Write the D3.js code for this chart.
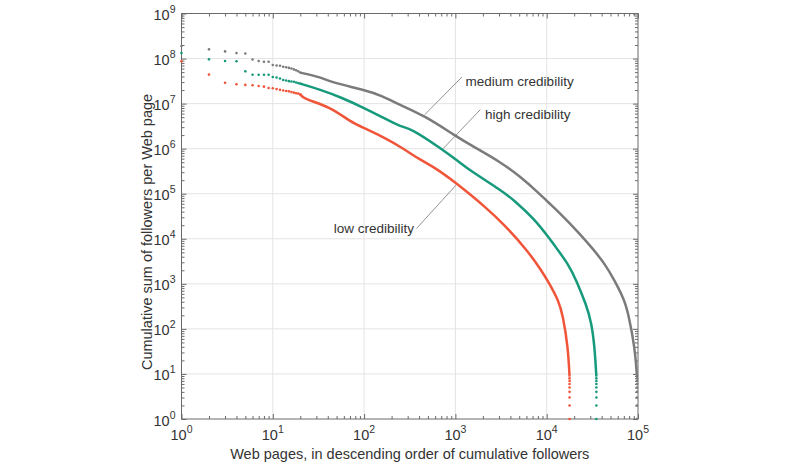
<!DOCTYPE html>
<html>
<head>
<meta charset="utf-8">
<script src="https://cdn.jsdelivr.net/npm/d3@7"></script>
<style>
  body { margin: 0; background: #fff; }
  svg { font-family: "Liberation Sans", Arial, sans-serif; }
</style>
</head>
<body>
<div class="chart"></div>
<script>
// first ranks are drawn as single dots
var headRanks = [1, 2, 3, 4, 5, 6, 7, 8, 9, 10, 11, 12, 13, 14, 15, 16, 17, 18, 19, 20];
var mediumHead = [1.9e8, 1.6e8, 1.44e8, 1.32e8, 1.29e8, 9.5e7, 8.8e7, 8.5e7, 8.5e7, 7.2e7,
  7.0e7, 6.9e7, 6.6e7, 6.4e7, 6.2e7, 6.0e7, 5.75e7, 5.5e7, 5.2e7, 4.9e7];
var highHead = [1.32e8, 9.6e7, 8.8e7, 8.7e7, 5.2e7, 4.36e7, 4.36e7, 4.36e7, 4.36e7, 3.9e7,
  3.8e7, 3.6e7, 3.35e7, 3.25e7, 3.15e7, 3.1e7, 3.05e7, 2.95e7, 2.85e7, 2.77e7];
var lowHead = [8.7e7, 4.4e7, 2.9e7, 2.7e7, 2.6e7, 2.55e7, 2.46e7, 2.38e7, 2.22e7, 2.2e7,
  2.1e7, 2.02e7, 1.95e7, 1.9e7, 1.87e7, 1.8e7, 1.75e7, 1.7e7, 1.67e7, 1.6e7];

// dense part, drawn as a line
var mediumRanks = [20, 33, 43, 104, 152, 252, 451, 1038, 1480, 3162, 5248, 8000, 10650, 13280,
  23900, 32200, 42800, 55200, 71100, 78000, 92200, 97500];
var mediumValues = [4.87e7, 3.89e7, 3.0e7, 1.97e7, 1.53e7, 9.17e6, 5.5e6, 1.84e6, 1.19e6, 4.99e5,
  2.32e5, 1.08e5, 6.15e4, 4.09e4, 1.2e4, 5880, 2880, 1208, 435, 224, 40, 8.7];
var highRanks = [20, 33, 55, 104, 152, 252, 320, 723, 1038, 1480, 3162, 4395, 7345, 10650, 13040,
  17220, 21100, 27180, 30850, 33500, 35000];
var highValues = [2.77e7, 2.04e7, 1.4e7, 7.7e6, 5.2e6, 3.03e6, 2.9e6, 9.55e5, 5.53e5, 3.15e5,
  1.2e5, 7.18e4, 2.72e4, 1.03e4, 5880, 2735, 1208, 337, 141, 40, 8.7];
var lowRanks = [20, 21.6, 43, 71, 104, 172, 252, 418, 585, 1038, 1480, 2070, 3410, 6110, 8710,
  10650, 13400, 15040, 17100, 17800];
var lowValues = [1.61e7, 1.29e7, 8.4e6, 3.9e6, 2.79e6, 1.7e6, 1.09e6, 5.53e5, 3.93e5, 1.68e5,
  9.3e4, 5.28e4, 2.1e4, 5590, 2010, 1036, 435, 202, 40, 8.7];

// last pages, drawn as dots again
var tailValues = [8, 7, 6, 5, 4, 3, 2, 1];

var seriesNames = ["medium credibility", "high credibility", "low credibility"];
var colors = ["#7b7b7b", "#179a7c", "#f0553a"];

var xMajor = [1, 10, 100, 1000, 10000, 100000];
var yMajor = [1, 10, 100, 1000, 1e4, 1e5, 1e6, 1e7, 1e8, 1e9];

// label anchor [rank, value] and leader line [from, to]
var labelPos = [[1230, 3.0e7], [2000, 5.5e6], [370, 1.69e4]];
var leaders = [
  [[1178, 3.89e7], [462, 5.7e6]],
  [[1875, 7.36e6], [734, 1.0e6]],
  [[375, 1.69e4], [1012, 1.54e5]]
];

var width = 800, height = 468;
var plotL = 181.5, plotR = 638, plotT = 13.5, plotB = 419;

var svg = d3.select(".chart").append("svg")
  .attr("width", width)
  .attr("height", height);

var x = d3.scaleLog().domain([1, 1e5]).range([plotL, plotR]);
var y = d3.scaleLog().domain([1, 1e9]).range([plotB, plotT]);

// minor tick values
var xMinor = [];
xMajor.forEach(function (d) { for (var k = 2; k < 10; k++) if (d * k < 1e5) xMinor.push(d * k); });
var yMinor = [];
yMajor.forEach(function (d) { for (var k = 2; k < 10; k++) if (d * k < 1e9) yMinor.push(d * k); });

// grid
var grid = svg.append("g").attr("stroke", "#e4e4e4").attr("stroke-width", 1);
grid.selectAll(".gx").data(xMajor.slice(1, -1)).enter().append("line")
  .attr("x1", d => x(d)).attr("x2", d => x(d)).attr("y1", plotT).attr("y2", plotB);
grid.selectAll(".gy").data(yMajor.slice(1, -1)).enter().append("line")
  .attr("x1", plotL).attr("x2", plotR).attr("y1", d => y(d)).attr("y2", d => y(d));

// axes with inward ticks on all sides
function styleAxis(g) {
  g.select(".domain").remove();
  g.selectAll("line").attr("stroke", "#6a6a6a");
  g.selectAll("text").remove();
}
svg.append("g").attr("transform", `translate(0,${plotB})`).call(d3.axisBottom(x).tickValues(xMajor).tickSize(-5)).call(styleAxis);
svg.append("g").attr("transform", `translate(0,${plotB})`).call(d3.axisBottom(x).tickValues(xMinor).tickSize(-3)).call(styleAxis);
svg.append("g").attr("transform", `translate(0,${plotT})`).call(d3.axisTop(x).tickValues(xMajor).tickSize(-5)).call(styleAxis);
svg.append("g").attr("transform", `translate(0,${plotT})`).call(d3.axisTop(x).tickValues(xMinor).tickSize(-3)).call(styleAxis);
svg.append("g").attr("transform", `translate(${plotL},0)`).call(d3.axisLeft(y).tickValues(yMajor).tickSize(-5)).call(styleAxis);
svg.append("g").attr("transform", `translate(${plotL},0)`).call(d3.axisLeft(y).tickValues(yMinor).tickSize(-3)).call(styleAxis);
svg.append("g").attr("transform", `translate(${plotR},0)`).call(d3.axisRight(y).tickValues(yMajor).tickSize(-5)).call(styleAxis);
svg.append("g").attr("transform", `translate(${plotR},0)`).call(d3.axisRight(y).tickValues(yMinor).tickSize(-3)).call(styleAxis);

svg.append("rect")
  .attr("x", plotL).attr("y", plotT)
  .attr("width", plotR - plotL).attr("height", plotB - plotT)
  .attr("fill", "none").attr("stroke", "#6a6a6a").attr("stroke-width", 1);

// tick labels 10^n
function powLabel(sel) {
  sel.append("tspan").text("10");
  sel.append("tspan").attr("dy", -7).attr("font-size", 10.5).text(d => Math.round(Math.log10(d)));
}
svg.selectAll(".xl").data(xMajor).enter().append("text")
  .attr("x", d => x(d)).attr("y", plotB + 21)
  .attr("text-anchor", "middle").attr("font-size", 14.5).attr("fill", "#333")
  .call(powLabel);
svg.selectAll(".yl").data(yMajor).enter().append("text")
  .attr("x", plotL - 6).attr("y", d => y(d) + 6.5)
  .attr("text-anchor", "end").attr("font-size", 14.5).attr("fill", "#333")
  .call(powLabel);

// axis titles
svg.append("text")
  .attr("x", (plotL + plotR) / 2).attr("y", 459)
  .attr("text-anchor", "middle").attr("font-size", 14.5).attr("fill", "#333")
  .text("Web pages, in descending order of cumulative followers");
svg.append("text")
  .attr("transform", "translate(152,232) rotate(-90)")
  .attr("text-anchor", "middle").attr("font-size", 14.5).attr("fill", "#333")
  .text("Cumulative sum of followers per Web page");

// series
var series = [
  { head: mediumHead, ranks: mediumRanks, values: mediumValues },
  { head: highHead, ranks: highRanks, values: highValues },
  { head: lowHead, ranks: lowRanks, values: lowValues }
];

var line = d3.line().x(d => x(d[0])).y(d => y(d[1])).curve(d3.curveBasis);

series.forEach(function (s, i) {
  var g = svg.append("g").attr("fill", colors[i]);
  g.append("path")
    .attr("d", line(d3.zip(s.ranks, s.values)))
    .attr("fill", "none")
    .attr("stroke", colors[i])
    .attr("stroke-width", 2.5)
    .attr("stroke-linejoin", "round");
  g.selectAll(".h").data(d3.zip(headRanks, s.head)).enter().append("circle")
    .attr("cx", d => x(d[0])).attr("cy", d => y(d[1])).attr("r", 1.3);
  var endRank = s.ranks[s.ranks.length - 1];
  g.selectAll(".t").data(tailValues).enter().append("circle")
    .attr("cx", x(endRank)).attr("cy", d => y(d)).attr("r", 1.3);
});

// annotations
leaders.forEach(function (l) {
  svg.append("line")
    .attr("x1", x(l[0][0])).attr("y1", y(l[0][1]))
    .attr("x2", x(l[1][0])).attr("y2", y(l[1][1]))
    .attr("stroke", "#777").attr("stroke-width", 0.8);
});
svg.selectAll(".ann").data(seriesNames).enter().append("text")
  .attr("x", (d, i) => x(labelPos[i][0]) + (i === 2 ? -2 : 2))
  .attr("y", (d, i) => y(labelPos[i][1]) + 4)
  .attr("text-anchor", (d, i) => i === 2 ? "end" : "start")
  .attr("font-size", 13.5).attr("fill", "#333")
  .text(d => d);
</script>
</body>
</html>
